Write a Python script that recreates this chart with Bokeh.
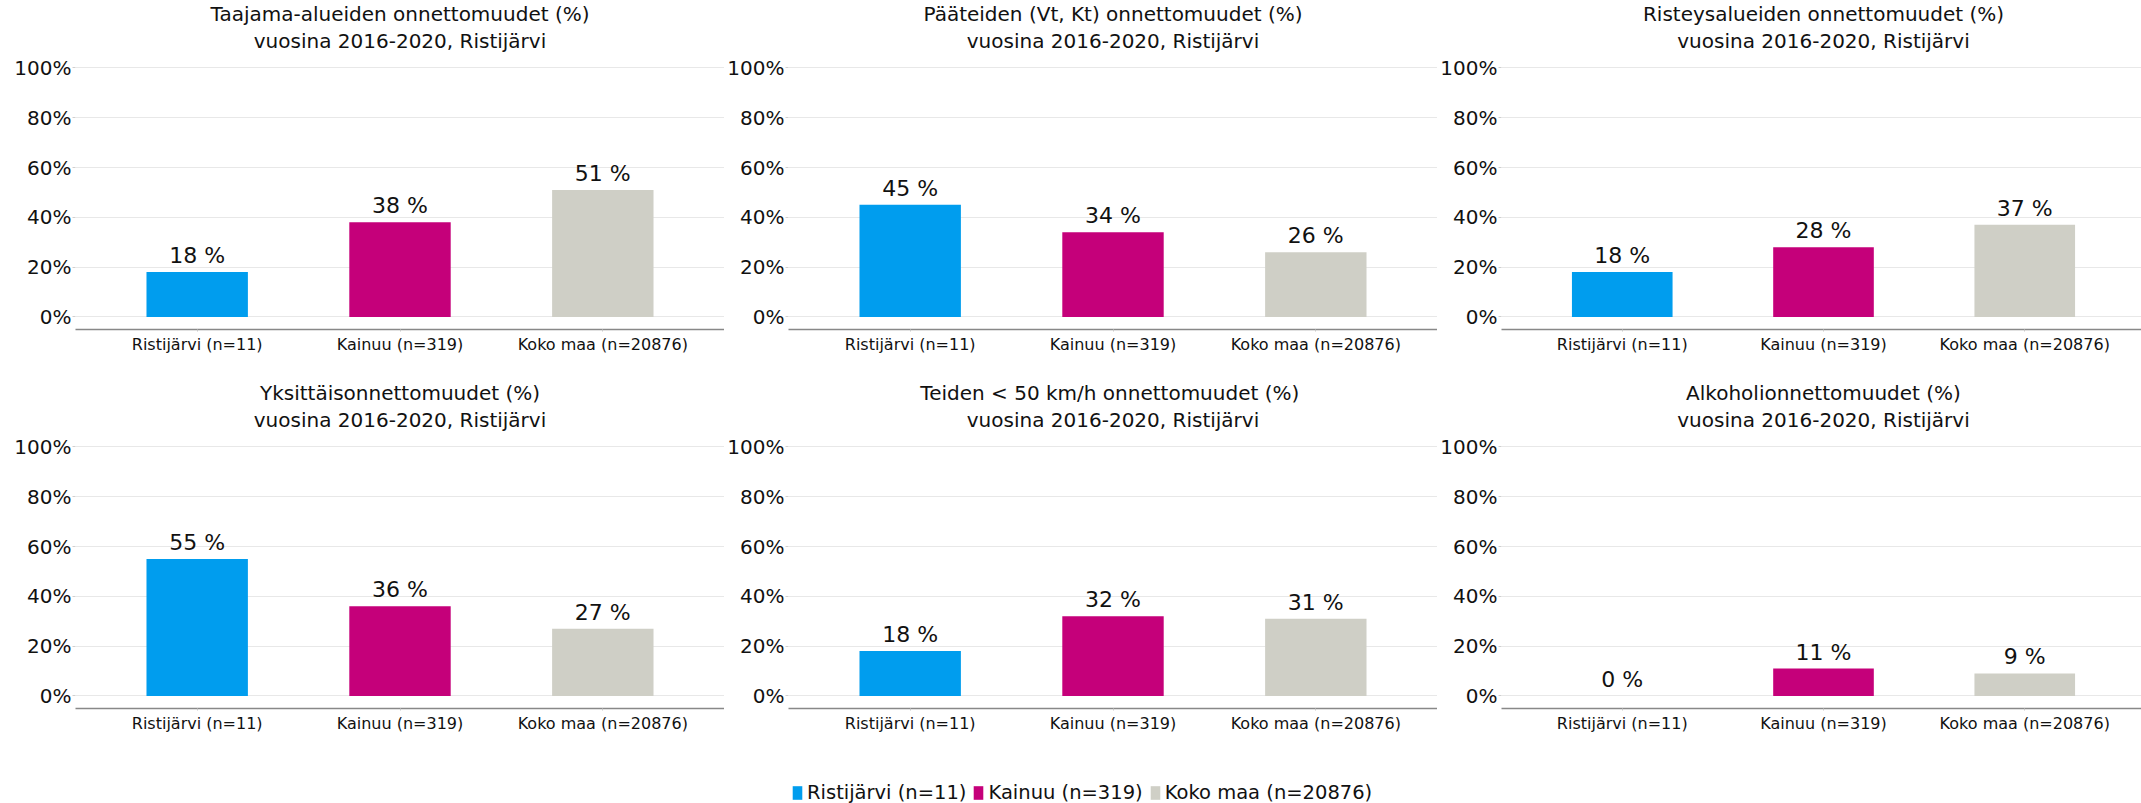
from bokeh.plotting import figure
from bokeh.models import (Range1d, FixedTicker, PrintfTickFormatter, LabelSet,
                          ColumnDataSource, Title, Legend, LegendItem)
from bokeh.core.properties import value
from bokeh.layouts import column, row
from bokeh.embed import file_html
from bokeh.resources import INLINE

categories = ["Ristijärvi (n=11)", "Kainuu (n=319)", "Koko maa (n=20876)"]
colors = ["#009DEE", "#C5007A", "#CFCFC6"]
subtitle = "vuosina 2016-2020, Ristijärvi"

titles = [
    "Taajama-alueiden onnettomuudet (%)",
    "Pääteiden (Vt, Kt) onnettomuudet (%)",
    "Risteysalueiden onnettomuudet (%)",
    "Yksittäisonnettomuudet (%)",
    "Teiden < 50 km/h  onnettomuudet (%)",
    "Alkoholionnettomuudet (%)",
]
taajama = [18, 38, 51]
paateiden = [45, 34, 26]
risteys = [18, 28, 37]
yksittais = [55, 36, 27]
teiden50 = [18, 32, 31]
alkoholi = [0, 11, 9]
series = [taajama, paateiden, risteys, yksittais, teiden50, alkoholi]
y_ticks = [0, 20, 40, 60, 80, 100]

FONT = "DejaVu Sans"
# per column: (min_border_left, frame_width)
col_geom = [(75, 649), (62, 649), (62, 644)]


def make_panel(title, vals, col):
    mbl, fw = col_geom[col]
    idx = list(range(len(categories)))
    src = ColumnDataSource(dict(x=idx, top=vals, color=colors,
                                lab=[f"{v} %" for v in vals]))
    p = figure(frame_width=fw, frame_height=274, min_border_left=mbl,
               min_border_right=0, min_border_top=55, min_border_bottom=50,
               x_range=Range1d(-0.6, 2.6), y_range=Range1d(-5.06, 105),
               toolbar_location=None, output_backend="svg")
    p.add_layout(Title(text=subtitle, align="center", text_font=FONT,
                       text_font_size="20px", text_font_style="normal",
                       text_color="#111111", standoff=6), "above")
    p.add_layout(Title(text=title, align="center", text_font=FONT,
                       text_font_size="20px", text_font_style="normal",
                       text_color="#111111", standoff=-4), "above")
    p.vbar(x="x", top="top", width=0.5, fill_color="color", line_color=None,
           source=src)
    labels = LabelSet(x="x", y="top", text="lab", source=src, y_offset=9,
                      text_align="center", text_baseline="alphabetic",
                      text_font=value(FONT), text_font_size=value("22px"),
                      text_color="#111111")
    p.add_layout(labels)
    p.outline_line_color = None
    p.xgrid.grid_line_color = None
    p.ygrid.grid_line_color = "#e8e8e8"
    p.ygrid.grid_line_width = 1.2
    p.ygrid.ticker = FixedTicker(ticks=y_ticks)

    p.yaxis.ticker = FixedTicker(ticks=y_ticks)
    p.yaxis.formatter = PrintfTickFormatter(format="%d%%")
    p.yaxis.axis_line_color = None
    p.yaxis.major_tick_line_color = "#d0d0d0"
    p.yaxis.major_tick_out = 3
    p.yaxis.major_tick_in = 0
    p.yaxis.minor_tick_line_color = None
    p.yaxis.major_label_standoff = 1
    p.yaxis.major_label_text_font = FONT
    p.yaxis.major_label_text_font_size = "20px"
    p.yaxis.major_label_text_color = "#111111"

    p.xaxis.ticker = FixedTicker(ticks=idx)
    p.xaxis.major_label_overrides = {i: c for i, c in zip(idx, categories)}
    p.xaxis.axis_line_color = "#888888"
    p.xaxis.axis_line_width = 1.3
    p.xaxis.major_tick_line_color = "#c8c8c8"
    p.xaxis.major_tick_out = 2
    p.xaxis.major_tick_in = 0
    p.xaxis.minor_tick_line_color = None
    p.xaxis.major_label_standoff = 3
    p.xaxis.major_label_text_font = FONT
    p.xaxis.major_label_text_font_size = "16px"
    p.xaxis.major_label_text_color = "#111111"
    return p


panels = [make_panel(t, v, i % 3) for i, (t, v) in enumerate(zip(titles, series))]

# legend strip
lg = figure(frame_width=2141, frame_height=45, min_border=0,
            x_axis_type=None, y_axis_type=None, toolbar_location=None,
            output_backend="svg", x_range=Range1d(0, 1), y_range=Range1d(0, 1))
lg.outline_line_color = None
lg.xgrid.grid_line_color = None
lg.ygrid.grid_line_color = None
items = []
for c, col in zip(categories, colors):
    # dummy bar outside the visible range: only its legend swatch is seen
    r = lg.vbar(x=[5], top=[1], width=0.5, fill_color=col, line_color=None)
    items.append(LegendItem(label=c, renderers=[r]))
legend = Legend(items=items, orientation="horizontal", location=(791, -1),
                glyph_width=12, glyph_height=17, label_height=17,
                label_standoff=4, spacing=6, padding=0, margin=0,
                border_line_color=None, background_fill_alpha=0,
                label_text_font=FONT, label_text_font_size="19.5px",
                label_text_color="#111111")
lg.add_layout(legend, "center")

layout = column(row(*panels[:3], spacing=0), row(*panels[3:], spacing=0), lg,
                spacing=0)
open("out.html", "w").write(file_html(layout, INLINE))
